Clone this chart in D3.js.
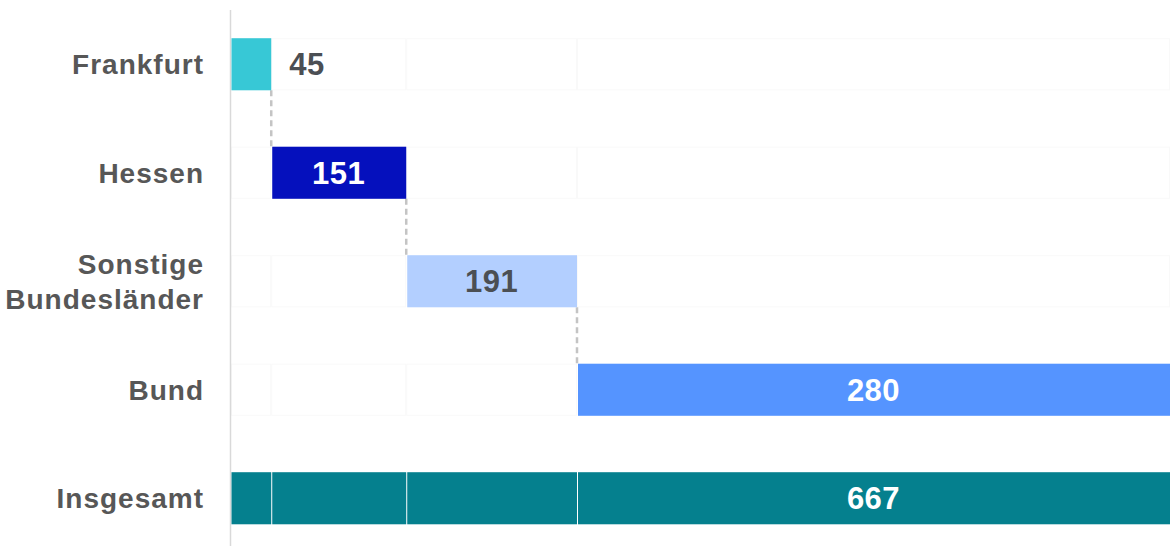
<!DOCTYPE html>
<html lang="de">
<head>
<meta charset="UTF-8">
<script src="https://cdnjs.cloudflare.com/ajax/libs/d3/7.8.5/d3.min.js"></script>
<style>
  html, body { margin: 0; padding: 0; background: #fff; }
  svg { display: block; font-family: "Liberation Sans", Arial, sans-serif; }
</style>
</head>
<body>
<div id="chart"></div>
<script>
// data
var categories = ["Frankfurt", "Hessen", "Sonstige Bundesländer", "Bund"];
var values = [45, 151, 191, 280];
var totalLabel = "Insgesamt";
var colors = ["#37c8d6", "#0510bd", "#b3cfff", "#5594ff"];
var totalColor = "#05808e";
var labelColors = ["#4b4f54", "#ffffff", "#4b4f54", "#ffffff"];

var width = 1170, height = 546;
var margin = {left: 231, right: 0};

// cumulative steps
var steps = [];
var run = 0;
values.forEach(function(v, i) {
  steps.push({cat: categories[i], start: run, end: run + v, value: v, i: i});
  run += v;
});
var total = run;

// the last step is stretched out to the right edge
var x = d3.scaleLinear()
  .domain([0, steps[2].end, total])
  .range([margin.left, margin.left + 346, width]);

var y = d3.scaleBand()
  .domain(categories.concat([totalLabel]))
  .range([10, 552.5])
  .paddingInner(0.52)
  .paddingOuter(0.26);

var svg = d3.select("#chart").append("svg")
  .attr("width", width)
  .attr("height", height);

// faint ghost segments in every row
var ghost = svg.append("g");
categories.forEach(function(c, ri) {
  ghost.selectAll(null)
    .data(steps.filter(function(s) { return s.i !== ri; }))
    .enter().append("rect")
    .attr("x", function(s) { return x(s.start) + 0.5; })
    .attr("y", y(c) + 0.5)
    .attr("width", function(s) { return x(s.end) - x(s.start) - 1; })
    .attr("height", y.bandwidth() - 1)
    .attr("fill", "#fff")
    .attr("stroke", "#f9f9f9")
    .attr("stroke-width", 1);
});

// axis line
svg.append("line")
  .attr("x1", margin.left - 0.5).attr("x2", margin.left - 0.5)
  .attr("y1", 10).attr("y2", height)
  .attr("stroke", "#d9d9d9").attr("stroke-width", 1.5);

// connectors
svg.append("g").selectAll("line")
  .data(steps.slice(0, -1))
  .enter().append("line")
  .attr("x1", function(d) { return x(d.end); })
  .attr("x2", function(d) { return x(d.end); })
  .attr("y1", function(d) { return y(d.cat) + y.bandwidth(); })
  .attr("y2", function(d) { return y(categories[d.i + 1]); })
  .attr("stroke", "#c4c4c4")
  .attr("stroke-width", 2.5)
  .attr("stroke-dasharray", "6,4");

// step bars
svg.append("g").selectAll("rect")
  .data(steps)
  .enter().append("rect")
  .attr("x", function(d) { return x(d.start) + (d.i ? 1 : 0.5); })
  .attr("y", function(d) { return y(d.cat); })
  .attr("width", function(d) { return x(d.end) - x(d.start) - (d.i ? 1 : 0.5); })
  .attr("height", y.bandwidth())
  .attr("fill", function(d) { return colors[d.i]; });

// total bar, made of segments
svg.append("g").selectAll("rect")
  .data(steps)
  .enter().append("rect")
  .attr("x", function(d) { return x(d.start) + (d.i ? 1 : 0.5); })
  .attr("y", y(totalLabel))
  .attr("width", function(d) { return x(d.end) - x(d.start) - (d.i ? 1 : 0.5); })
  .attr("height", y.bandwidth())
  .attr("fill", totalColor);

// value labels
svg.append("g").selectAll("text")
  .data(steps)
  .enter().append("text")
  .attr("x", function(d) { return d.i === 0 ? x(d.end) + 18 : (x(d.start) + x(d.end)) / 2; })
  .attr("y", function(d) { return y(d.cat) + y.bandwidth() / 2; })
  .attr("dy", "0.36em")
  .attr("text-anchor", function(d) { return d.i === 0 ? "start" : "middle"; })
  .attr("fill", function(d) { return labelColors[d.i]; })
  .style("font-size", "31px")
  .style("font-weight", "bold")
  .style("letter-spacing", "0.5px")
  .text(function(d) { return d.value; });

var last = steps[steps.length - 1];
svg.append("text")
  .attr("x", (x(last.start) + x(last.end)) / 2)
  .attr("y", y(totalLabel) + y.bandwidth() / 2)
  .attr("dy", "0.36em")
  .attr("text-anchor", "middle")
  .attr("fill", "#fff")
  .style("font-size", "31px")
  .style("font-weight", "bold")
  .style("letter-spacing", "0.5px")
  .text(total);

// category labels
var catLabels = svg.append("g").selectAll("text")
  .data(categories.concat([totalLabel]))
  .enter().append("text")
  .attr("x", 203)
  .attr("y", function(d) { return y(d) + y.bandwidth() / 2; })
  .attr("text-anchor", "end")
  .attr("fill", "#575757")
  .style("font-size", "28px")
  .style("font-weight", "bold")
  .style("letter-spacing", "1px");

catLabels.each(function(d) {
  var words = d.split(" ");
  var t = d3.select(this);
  var lh = 35;
  var off = -(words.length - 1) * lh / 2;
  words.forEach(function(w, k) {
    t.append("tspan")
      .attr("x", 204)
      .attr("dy", k === 0 ? (off / 28 + 0.36) + "em" : lh + "px")
      .text(w);
  });
});
</script>
</body>
</html>
